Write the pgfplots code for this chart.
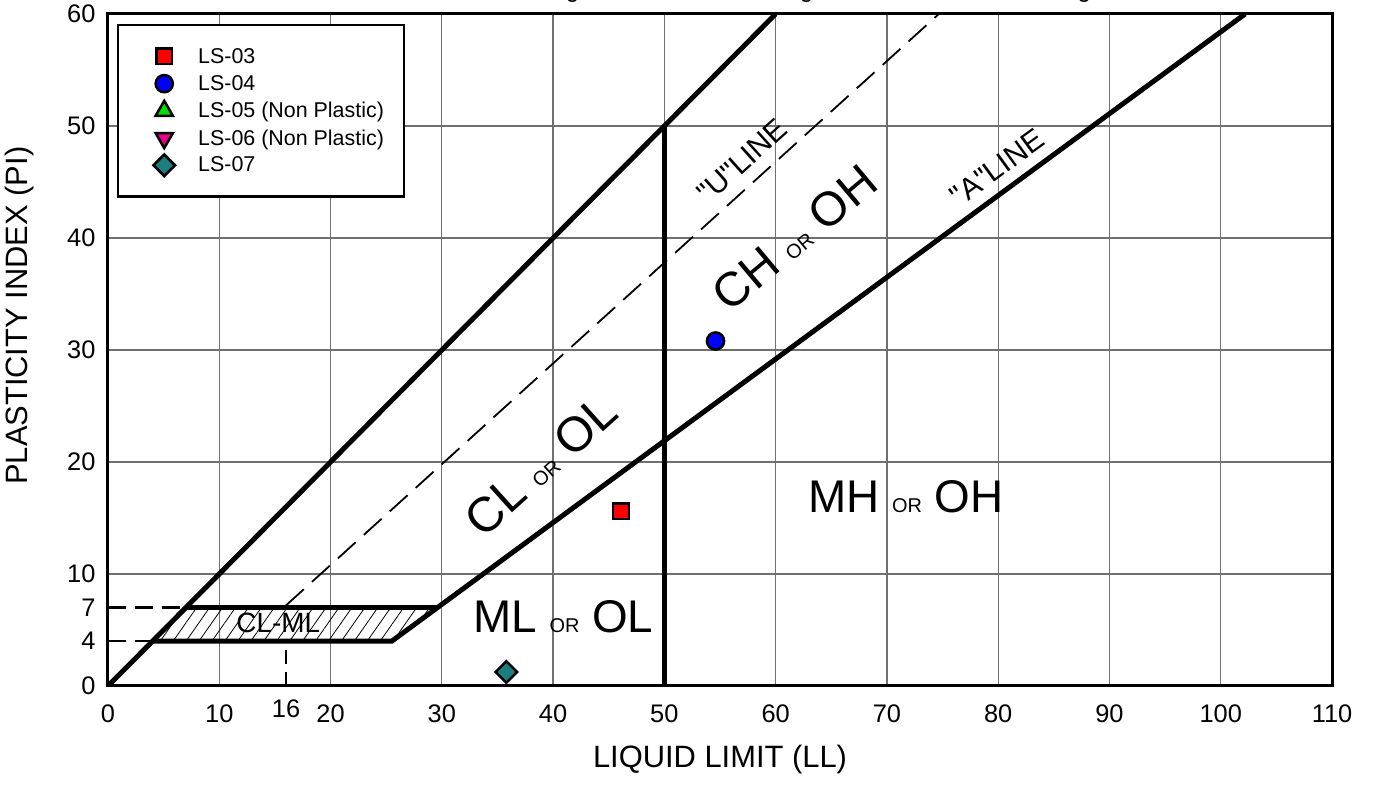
\documentclass[border=0pt]{standalone}
\usepackage{fontspec}
\setmainfont{Liberation Sans}
\newfontfamily\qfont{Liberation Sans}[Ligatures=TeXOff]
\usepackage{pgfplots}
\pgfplotsset{compat=1.18}
\usetikzlibrary{patterns.meta}
\definecolor{gridc}{HTML}{707070}
\definecolor{tealc}{HTML}{1B7F7F}
\definecolor{limec}{HTML}{00E000}
\newcommand{\fs}[1]{\fontsize{#1}{#1}\selectfont}
\begin{document}
\begin{tikzpicture}
\begin{axis}[
  scale only axis, width=1224bp, height=672bp,
  xmin=0, xmax=110, ymin=0, ymax=60,
  xtick={0,10,...,110}, ytick={0,10,...,60},
  extra x ticks={16}, extra x tick style={grid=none, xticklabel style={yshift=5bp}},
  extra y ticks={4,7}, extra y tick style={grid=none},
  grid=major, major grid style={draw=gridc, line width=1.3bp},
  axis line style={line width=3bp},
  major tick length=0pt,
  tick label style={font=\fs{25.5}},
  /pgf/number format/assume math mode=true,
  xticklabel style={yshift=-15bp},
  yticklabel style={xshift=-9bp},
  legend style={at={(0,1)}, anchor=north west, xshift=9bp, yshift=-10bp,
    draw=black, line width=2.5bp, inner xsep=20bp, inner ysep=21.5bp,
    row sep=7.8bp, column sep=24bp, font=\fs{21.5}, cells={anchor=west},
    nodes={inner sep=0pt}},
  legend image code/.code={\draw[#1, overlay] plot coordinates {(0bp,0bp)}; \path[draw=none, fill=none] (-26bp,-9.7bp) rectangle (10bp,9.7bp);},
]
% hatched CL-ML zone
\addplot[draw=none, pattern={Lines[angle=55, distance=10.6bp, line width=0.8bp]}, forget plot]
  coordinates {(4,4) (7,7) (29.6,7) (25.5,4) (4,4)};
% dashed guide lines
\addplot[black, line width=2.2bp, dash pattern=on 18bp off 9bp, forget plot] coordinates {(0,7) (7,7)};
\addplot[black, line width=2.2bp, dash pattern=on 18bp off 9bp, forget plot] coordinates {(0,4) (4,4)};
\addplot[black, line width=2.2bp, dash pattern=on 14bp off 8bp, forget plot] coordinates {(16,0) (16,4)};
% U-line
\addplot[black, line width=1.8bp, dash pattern=on 24bp off 11bp, forget plot] coordinates {(16,7.2) (74.667,60)};
% PI = LL line
\addplot[black, line width=5bp, forget plot] coordinates {(0,0) (60,60)};
% LL = 50
\addplot[black, line width=5bp, forget plot] coordinates {(50,0) (50,50)};
% A-line with horizontal at 4
\addplot[black, line width=5bp, line join=miter, forget plot] coordinates {(4,4) (25.5,4) (102.19,60)};
% horizontal at 7
\addplot[black, line width=5bp, forget plot] coordinates {(7,7) (29.6,7)};

% data points
\addplot[only marks, mark=square*, mark size=7.8bp, mark options={draw=black, fill=red, line width=2.5bp}]
  coordinates {(46.1,15.6)};
\addlegendentry{LS-03}
\addplot[only marks, mark=*, mark size=8.6bp, mark options={draw=black, fill=blue, line width=2.5bp}]
  coordinates {(54.6,30.8)};
\addlegendentry{LS-04}
\addlegendimage{only marks, mark=triangle*, mark size=10bp, mark options={draw=black, fill=limec, line width=2.5bp}}
\addlegendentry{LS-05 (Non Plastic)}
\addlegendimage{only marks, mark=triangle*, mark size=10bp, mark options={draw=black, fill=magenta, line width=2.5bp, rotate=180}}
\addlegendentry{LS-06 (Non Plastic)}
\addplot[only marks, mark=square*, mark size=7.6bp, mark options={draw=black, fill=tealc, line width=2.5bp, rotate=45}]
  coordinates {(35.8,1.25)};
\addlegendentry{LS-07}

% region labels
\node[font=\fs{49}, rotate=42, inner sep=0pt] at (axis cs:38.9,19.7) {CL {\fs{20}OR} OL};
\node[font=\fs{48}, rotate=40, inner sep=0pt] at (axis cs:61.7,40.0) {CH {\fs{20}OR} OH};
\node[font=\fs{46}, anchor=base west, inner sep=0pt] at (axis cs:62.9,15.5) {MH {\fs{20}OR} OH};
\node[font=\fs{46}, anchor=base west, inner sep=0pt] at (axis cs:32.8,4.8) {ML {\fs{20}OR} OL};
\node[font=\qfont\fs{30}, rotate=42, inner sep=0pt] at (axis cs:57.0,46.9) {"U"LINE};
\node[font=\qfont\fs{30}, rotate=36, inner sep=0pt] at (axis cs:79.9,46.3) {"A"LINE};
\node[font=\fs{28}, inner sep=0pt] at (axis cs:15.3,5.6) {CL-ML};

\coordinate (SW) at (rel axis cs:0,0);
\coordinate (NE) at (rel axis cs:1,1);
\coordinate (NW) at (rel axis cs:0,1);
\coordinate (XL) at (rel axis cs:0.5,0);
\coordinate (YL) at (rel axis cs:0,0.551);
\end{axis}
% axis labels
\node[font=\fs{31}] at ([yshift=-74bp]XL) {LIQUID LIMIT (LL)};
\node[font=\fs{31}, rotate=90] at ([xshift=-88bp]YL) {PLASTICITY INDEX (PI)};
\node[anchor=base west, font=\fs{24}, inner sep=0pt] at ([xshift=200bp, yshift=16bp]NW)
  {For classification of fine-grained soils and fine-grained fraction of coarse-grained soils};
\pgfresetboundingbox
\path[use as bounding box] ([xshift=-108bp,yshift=-110bp]SW) rectangle ([xshift=53bp,yshift=14bp]NE);
\end{tikzpicture}
\end{document}
